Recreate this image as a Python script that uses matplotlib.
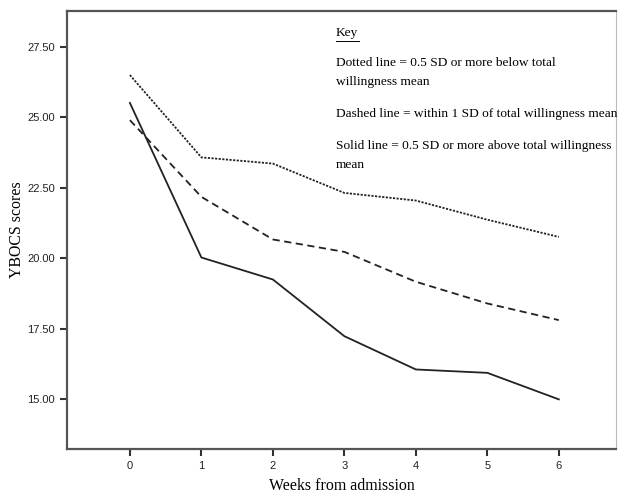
import matplotlib.pyplot as plt

weeks = [0, 1, 2, 3, 4, 5, 6]
low_willing = [26.50, 23.58, 23.36, 22.32, 22.05, 21.37, 20.76]
mid_willing = [24.90, 22.18, 20.67, 20.23, 19.17, 18.40, 17.81]
high_willing = [25.51, 20.03, 19.25, 17.24, 16.06, 15.94, 15.00]
yticks = [15.0, 17.5, 20.0, 22.5, 25.0, 27.5]

key_lines = [
    "Dotted line = 0.5 SD or more below total\nwillingness mean",
    "Dashed line = within 1 SD of total willingness mean",
    "Solid line = 0.5 SD or more above total willingness\nmean",
]

serif = "Liberation Serif"


def px(x, y):
    # pixel position (from top left) -> figure fraction
    return (x / 619, 1 - y / 493)


fig = plt.figure(figsize=(6.19, 4.93), dpi=100)
ax = fig.add_axes([67 / 619, 1 - 449 / 493, (616 - 67) / 619, (449 - 11) / 493])

ax.plot(weeks, low_willing, color="#222222", lw=1.3, linestyle=(0, (1.2, 0.8)))
ax.plot(weeks, mid_willing, color="#222222", lw=1.3, linestyle=(0, (4, 2.5)))
ax.plot(weeks, high_willing, color="#222222", lw=1.3, linestyle="-")

ax.set_xlim(-0.88, 6.8)
ax.set_ylim(13.24, 28.77)
ax.set_xticks(weeks)
ax.set_yticks(yticks)
ax.set_yticklabels([f"{v:.2f}" for v in yticks])
ax.tick_params(direction="out", length=5, width=1.5, color="#333333",
               labelsize=8, labelcolor="#222222")
for lab in ax.get_xticklabels() + ax.get_yticklabels():
    lab.set_fontfamily("Liberation Sans")

for side in ["left", "bottom", "top"]:
    ax.spines[side].set_linewidth(1.6)
    ax.spines[side].set_color("#555555")
ax.spines["right"].set_linewidth(0.8)
ax.spines["right"].set_color("#bbbbbb")

ax.set_xlabel("Weeks from admission", family=serif, fontsize=11.4, labelpad=5)
ax.set_ylabel("YBOCS scores", family=serif, fontsize=11.4, labelpad=2)

fig.text(*px(336, 33), "Key", family=serif, fontsize=9.6, va="center", ha="left")
fig.add_artist(plt.Line2D([336 / 619, 359 / 619], [1 - 41 / 493, 1 - 41 / 493],
                          color="black", lw=0.7))
fig.text(*px(336, 57), key_lines[0], family=serif, fontsize=9.6, va="top",
         ha="left", linespacing=1.8)
fig.text(*px(336, 108), key_lines[1], family=serif, fontsize=9.6, va="top", ha="left")
fig.text(*px(336, 140), key_lines[2], family=serif, fontsize=9.6, va="top",
         ha="left", linespacing=1.8)

fig.savefig("out.png", dpi=100)
